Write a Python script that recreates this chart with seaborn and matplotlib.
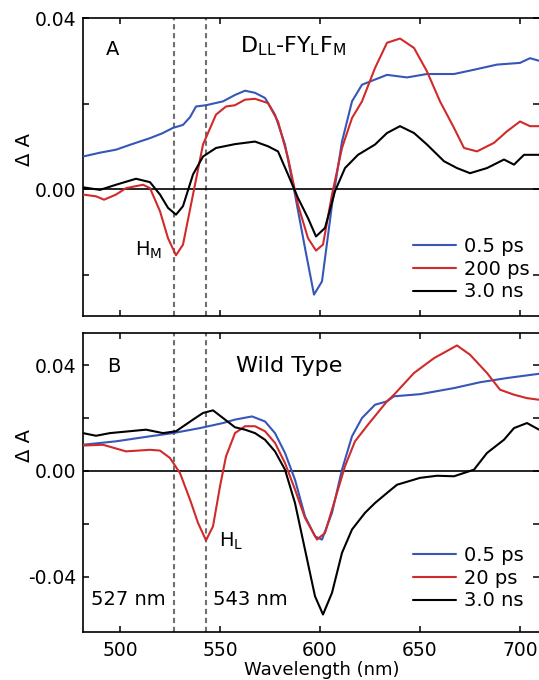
import numpy as np
import pandas as pd
import matplotlib
matplotlib.use("Agg")
import matplotlib.pyplot as plt
import seaborn as sns

# Panel A: D_LL-FY_LF_M
a_blue_wl = [481.5, 490, 498, 506, 515, 521, 526.5, 531.5, 535, 538, 543, 551.5, 557.5, 562.5, 567.5, 572.5,
             577.5, 582.5, 587.5, 592.5, 597, 601, 606, 611, 616, 621, 627.5, 633.5, 643.5, 653.5, 667, 677,
             688.5, 700, 705, 709.5]
a_blue = [0.0076, 0.0085, 0.0092, 0.0105, 0.0119, 0.013, 0.0143, 0.015, 0.0168, 0.0193, 0.0196, 0.0205, 0.022,
          0.023, 0.0225, 0.0213, 0.0174, 0.0104, -0.0013, -0.0138, -0.0247, -0.0216, -0.0037, 0.0111, 0.0205,
          0.0244, 0.0256, 0.0267, 0.0261, 0.0269, 0.0269, 0.0279, 0.0291, 0.0295, 0.0306, 0.030]

a_red_wl = [481.5, 488, 492, 498, 503, 511.5, 515, 520, 524, 528, 531.5, 536.5, 541.5, 548, 553, 557.5, 562.5,
            567.5, 574, 579, 584, 589, 594, 598, 601.5, 606, 611, 616, 621, 627.5, 633.5, 640, 647, 653.5, 660,
            667, 672, 678.5, 687, 693.5, 700, 705, 709.5]
a_red = [-0.0013, -0.0017, -0.0025, -0.0013, 0.0002, 0.001, 0.0002, -0.0052, -0.0115, -0.0155, -0.013, -0.0013,
         0.0104, 0.0174, 0.0193, 0.0196, 0.0209, 0.0211, 0.0201, 0.0158, 0.0073, -0.0037, -0.0115, -0.0144,
         -0.013, -0.0013, 0.0096, 0.0166, 0.0205, 0.0283, 0.0342, 0.0352, 0.033, 0.0275, 0.0205, 0.0143, 0.0096,
         0.0088, 0.0108, 0.0135, 0.0158, 0.0147, 0.0147]

a_black_wl = [481.5, 490, 498, 508, 515, 520, 524, 528, 531.5, 536.5, 541.5, 548, 557.5, 567.5, 574, 579, 584,
              589, 594, 598, 602.5, 607.5, 612.5, 619, 627.5, 633.5, 640, 647, 653.5, 662, 668.5, 675, 683.5,
              692, 697, 702, 709.5]
a_black = [0.0004, -0.0002, 0.001, 0.0024, 0.0016, -0.0013, -0.0044, -0.006, -0.004, 0.0034, 0.0076, 0.0096,
           0.0105, 0.0111, 0.010, 0.0088, 0.0034, -0.0021, -0.0068, -0.0111, -0.0091, -0.0005, 0.0049, 0.008,
           0.0104, 0.0131, 0.0147, 0.0131, 0.0104, 0.0065, 0.0049, 0.0037, 0.0049, 0.0069, 0.0057, 0.008, 0.008]

# Panel B: Wild Type
b_blue_wl = [481.5, 498, 515, 526.5, 540, 551.5, 557.5, 566, 572.5, 577.5, 582.5, 587.5, 592.5, 597.5, 601, 606,
             611, 616, 621, 627.5, 633.5, 637, 650, 667, 680, 693.5, 709.5]
b_blue = [0.0099, 0.0112, 0.0131, 0.0143, 0.0162, 0.0181, 0.0194, 0.0206, 0.0187, 0.0143, 0.0068, -0.0033,
          -0.0171, -0.0247, -0.0259, -0.0158, 0.0005, 0.0131, 0.020, 0.025, 0.0263, 0.0282, 0.029, 0.0313,
          0.0335, 0.0351, 0.0367]

b_red_wl = [481.5, 491.5, 503, 515, 520, 525, 530, 535, 539, 543, 546.5, 550, 553, 557.5, 562.5, 567.5, 572.5,
            577.5, 582.5, 587.5, 592.5, 598.5, 602.5, 607.5, 612.5, 617.5, 624, 633.5, 637, 647, 657, 668.5, 675,
            683.5, 690, 697, 703.5, 709.5]
b_red = [0.0096, 0.0099, 0.0074, 0.008, 0.0077, 0.0049, -0.0008, -0.0108, -0.0196, -0.0262, -0.0209, -0.0058,
         0.0055, 0.0143, 0.0169, 0.0169, 0.015, 0.0106, 0.003, -0.007, -0.0177, -0.0259, -0.0234, -0.0108, 0.0018,
         0.0112, 0.0175, 0.0263, 0.0288, 0.037, 0.0426, 0.0474, 0.0439, 0.037, 0.0307, 0.0288, 0.0275, 0.0269]

b_black_wl = [481.5, 488, 495, 513, 521.5, 528, 536.5, 541.5, 546.5, 551.5, 557.5, 562.5, 567.5, 572.5, 577.5,
              582.5, 587.5, 592.5, 597.5, 601.5, 606, 611, 616, 622.5, 627.5, 633.5, 638.5, 650, 658.5, 667, 677,
              683.5, 692, 697, 703.5, 709.5]
b_black = [0.0143, 0.0133, 0.0143, 0.0156, 0.0143, 0.015, 0.0194, 0.0219, 0.0229, 0.020, 0.0165, 0.0156, 0.0143,
           0.0118, 0.0074, 0.0005, -0.0121, -0.0297, -0.0473, -0.0542, -0.046, -0.0309, -0.0221, -0.0158,
           -0.0121, -0.0083, -0.0052, -0.0026, -0.0018, -0.002, 0.0005, 0.0068, 0.0118, 0.0162, 0.0181, 0.0156]

a_labels = ["0.5 ps", "200 ps", "3.0 ns"]
b_labels = ["0.5 ps", "20 ps", "3.0 ns"]
marker_wl = [527, 543]

sns.set_style("ticks")
plt.rcParams["font.family"] = ["DejaVu Sans"]
plt.rcParams["axes.unicode_minus"] = False
plt.rcParams["xtick.direction"] = "in"
plt.rcParams["ytick.direction"] = "in"
for k in ["text.color", "axes.labelcolor", "xtick.color", "ytick.color", "axes.edgecolor"]:
    plt.rcParams[k] = "black"

blue = "#3656b8"
red = "#d02a2a"
black = "#000000"
fs = 14
tfs = 13.5

W, H = 539, 680
fig = plt.figure(figsize=(W / 100, H / 100), dpi=100)
ax1 = fig.add_axes([83 / W, 1 - 316 / H, 456 / W, 298 / H])
ax2 = fig.add_axes([83 / W, 1 - 632 / H, 456 / W, 299 / H])


def px(x, y):
    return x / W, 1 - y / H


panels = [
    (ax1, [(a_blue_wl, a_blue), (a_red_wl, a_red), (a_black_wl, a_black)], a_labels, (-0.0297, 0.04), (413, 237)),
    (ax2, [(b_blue_wl, b_blue), (b_red_wl, b_red), (b_black_wl, b_black)], b_labels, (-0.0608, 0.0521), (413, 546)),
]

for ax, series, labels, ylim, leg_xy in panels:
    for wl in marker_wl:
        ax.axvline(wl, color="#707070", lw=1.5, ls=(0, (2.5, 1.8)), zorder=1)
    ax.axhline(0, color="black", lw=1.2, zorder=1)
    for (x, y), lab, col in zip(series, labels, [blue, red, black]):
        sns.lineplot(x=x, y=y, ax=ax, color=col, lw=1.5, label=lab, sort=False, zorder=3)
    ax.set_xlim(481.5, 709.5)
    ax.set_ylim(*ylim)
    ax.set_xticks([500, 550, 600, 650, 700])
    ax.tick_params(axis="both", which="both", top=True, right=True, length=4.5, width=1.1,
                   labelsize=tfs, pad=5)
    ax.tick_params(axis="x", pad=6.5)
    for s in ax.spines.values():
        s.set_linewidth(1.2)
    ax.spines["right"].set_visible(False)
    ax.set_xlabel("")
    ax.set_ylabel("")
    ax.legend(loc="upper left", bbox_to_anchor=px(*leg_xy), bbox_transform=fig.transFigure,
              frameon=False, fontsize=fs, handlelength=2.2, handletextpad=0.4, labelspacing=0.19,
              borderpad=0, borderaxespad=0)

ax1.set_yticks([-0.02, 0, 0.02, 0.04])
ax1.set_yticklabels(["", "0.00", "", "0.04"])
ax1.set_xticklabels([])
ax2.set_yticks([-0.04, -0.02, 0, 0.02, 0.04])
ax2.set_yticklabels(["-0.04", "", "0.00", "", "0.04"])
ax2.set_xticklabels(["500", "550", "600", "650", "700"])

fig.text(*px(106, 55), "A", fontsize=fs, ha="left", va="baseline")
fig.text(*px(240, 52), r"D$_\mathregular{LL}$-FY$_\mathregular{L}$F$_\mathregular{M}$", fontsize=16,
         ha="left", va="baseline")
fig.text(*px(135, 256), r"H$_\mathregular{M}$", fontsize=fs, ha="left", va="baseline")
fig.text(*px(107, 372), "B", fontsize=fs, ha="left", va="baseline")
fig.text(*px(236, 372), "Wild Type", fontsize=16, ha="left", va="baseline")
fig.text(*px(219, 547), r"H$_\mathregular{L}$", fontsize=fs, ha="left", va="baseline")
fig.text(*px(91, 605), "527 nm", fontsize=fs, ha="left", va="baseline")
fig.text(*px(213, 605), "543 nm", fontsize=fs, ha="left", va="baseline")
fig.text(*px(25, 149), "\u0394 A", fontsize=fs, rotation=90, ha="center", va="center")
fig.text(*px(25, 445), "\u0394 A", fontsize=fs, rotation=90, ha="center", va="center")
fig.text(*px(322, 679), "Wavelength (nm)", fontsize=13, ha="center", va="bottom")

fig.savefig("out.png", dpi=100)
